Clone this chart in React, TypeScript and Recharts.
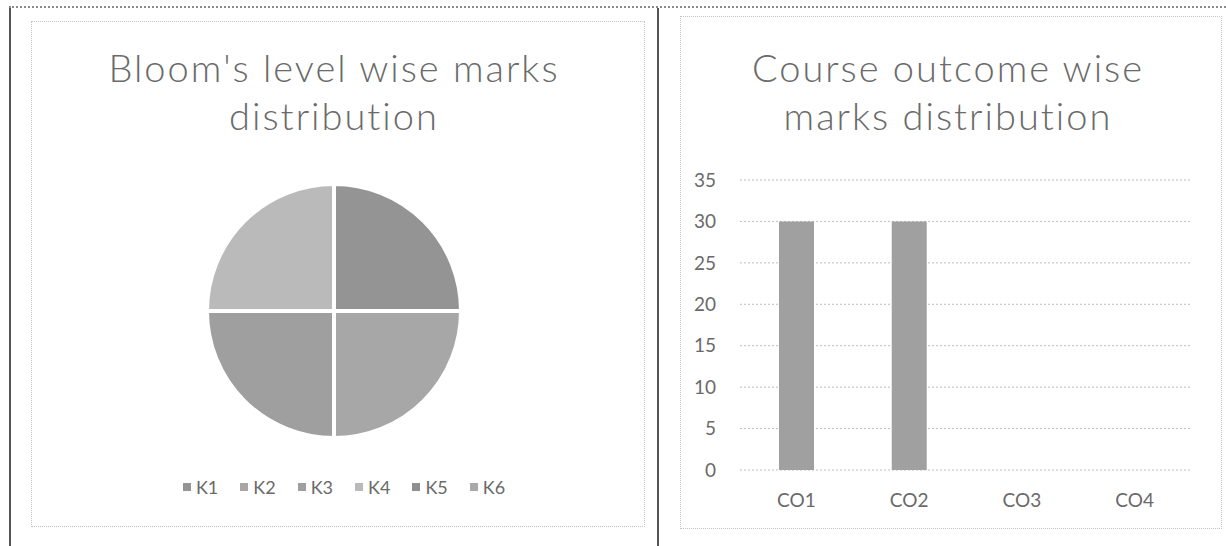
import React from "react";
import {
  Bar,
  BarChart,
  CartesianGrid,
  Cell,
  Legend,
  Pie,
  PieChart,
  XAxis,
  YAxis,
} from "recharts";

// Bloom's levels (pie)
const LEVELS = ["K1", "K2", "K3", "K4", "K5", "K6"];
const LEVEL_MARKS = [15, 15, 15, 15, 0, 0];

// course outcomes (bars)
const OUTCOMES = ["CO1", "CO2", "CO3", "CO4"];
const OUTCOME_MARKS = [30, 30, 0, 0];
const Y_TICKS = [0, 5, 10, 15, 20, 25, 30, 35];

const LEVEL_COLORS = ["#949494", "#a7a7a7", "#9f9f9f", "#bababa", "#8f8f8f", "#a9a9a9"];
const FONT = "Lato, 'Open Sans', sans-serif";
const TEXT = "#6a6a6a";

const titleStyle: React.CSSProperties = {
  position: "absolute",
  fontFamily: FONT,
  fontWeight: 300,
  fontSize: 38,
  letterSpacing: 2,
  lineHeight: "48px",
  color: TEXT,
  textAlign: "center",
  whiteSpace: "nowrap",
};

function LevelLegend() {
  return (
    <div style={{ display: "flex", justifyContent: "center", gap: 22, fontFamily: FONT, fontSize: 18, color: TEXT }}>
      {LEVELS.map((k, i) => (
        <span key={k} style={{ display: "flex", alignItems: "center", gap: 5 }}>
          <span style={{ width: 8, height: 8, background: LEVEL_COLORS[i], display: "inline-block" }} />
          {k}
        </span>
      ))}
    </div>
  );
}

export default function App() {
  const pieData = LEVELS.map((name, i) => ({ name, value: LEVEL_MARKS[i] }));
  const barData = OUTCOMES.map((co, i) => ({ co, marks: OUTCOME_MARKS[i] }));

  return (
    <div style={{ position: "absolute", left: 0, top: 0, width: 1226, height: 546, background: "#fff", overflow: "hidden" }}>
      {/* page frame from the scan */}
      <div style={{ position: "absolute", left: 9, top: 6, width: 2, height: 540, background: "#555" }} />
      <div style={{ position: "absolute", left: 9, top: 6, width: 1217, height: 0, borderTop: "2px dotted #8a8a8a" }} />
      <div style={{ position: "absolute", left: 657, top: 8, width: 2, height: 538, background: "#555" }} />
      <div style={{ position: "absolute", left: 31, top: 21, width: 612, height: 504, border: "1px dotted #c4c4c4" }} />
      <div style={{ position: "absolute", left: 680, top: 16, width: 540, height: 511, border: "1px dotted #c4c4c4" }} />

      {/* left: pie */}
      <div style={{ ...titleStyle, left: 31, top: 43, width: 606 }}>
        Bloom's level wise marks
        <br />
        distribution
      </div>
      <div style={{ position: "absolute", left: 31, top: 21 }}>
        <PieChart width={606} height={504} margin={{ top: 0, right: 0, bottom: 0, left: 0 }}>
          <Pie
            data={pieData}
            dataKey="value"
            nameKey="name"
            cx={303}
            cy={290}
            outerRadius={127}
            startAngle={90}
            endAngle={-270}
            stroke="#fff"
            strokeWidth={4}
            isAnimationActive={false}
          >
            {pieData.map((d, i) => (
              <Cell key={d.name} fill={LEVEL_COLORS[i]} />
            ))}
          </Pie>
          <Legend
            layout="horizontal"
            verticalAlign="middle"
            wrapperStyle={{ top: 455, left: 10, width: 606 }}
            content={() => <LevelLegend />}
          />
        </PieChart>
      </div>

      {/* right: bars */}
      <div style={{ ...titleStyle, left: 680, top: 43, width: 536 }}>
        Course outcome wise
        <br />
        marks distribution
      </div>
      <div style={{ position: "absolute", left: 680, top: 16 }}>
        <BarChart width={542} height={512} data={barData} margin={{ top: 164, right: 31, bottom: 28, left: 0 }}>
          <CartesianGrid vertical={false} stroke="#bdbdbd" strokeDasharray="2 2" />
          <YAxis
            domain={[0, 35]}
            ticks={Y_TICKS}
            width={60}
            axisLine={false}
            tickLine={false}
            tickSize={0}
            tickMargin={24}
            tick={{ fill: TEXT, fontSize: 19, fontFamily: FONT }}
          />
          <XAxis
            dataKey="co"
            height={30}
            axisLine={false}
            tickLine={false}
            tickSize={0}
            tickMargin={24}
            tick={{ fill: TEXT, fontSize: 19, fontFamily: FONT }}
          />
          <Bar dataKey="marks" fill="#a0a0a0" barSize={35} isAnimationActive={false} />
        </BarChart>
      </div>
    </div>
  );
}
